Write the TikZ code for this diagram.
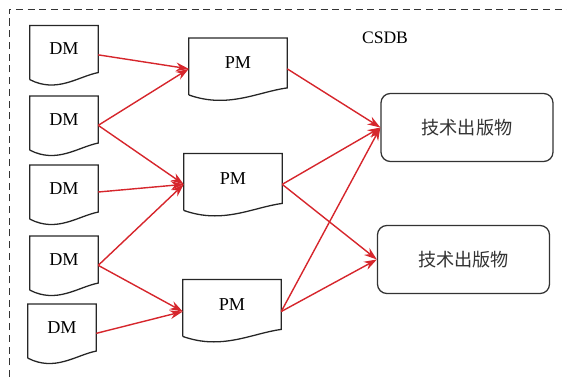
\documentclass[tikz,border=0pt]{standalone}
\usepackage{fontspec}
\setmainfont{Liberation Serif}
\newfontfamily\cjkfont{Noto Sans CJK SC}
\usetikzlibrary{arrows.meta}
\definecolor{arrowred}{RGB}{214,38,44}

\begin{document}
\begin{tikzpicture}[
    x=0.03cm, y=-0.03cm,
    doc/.style={
        rectangle,
        minimum width=2.04cm,
        minimum height=1.40cm,
        inner sep=0pt,
        font=\fontsize{15.5}{18}\selectfont
    },
    pmdoc/.style={
        doc,
        minimum width=2.94cm,
        minimum height=1.48cm
    },
    pub/.style={
        rectangle,
        rounded corners=8pt,
        draw=black!80,
        line width=1.1pt,
        minimum width=5.16cm,
        minimum height=2.04cm,
        text=black!80,
        font=\cjkfont\fontsize{15.5}{18}\selectfont
    },
    outline/.style={
        draw=black!85,
        line width=1.1pt
    },
    link/.style={
        -{Stealth[length=11pt,width=7.5pt]},
        draw=arrowred,
        line width=1.2pt
    },
    frame/.style={
        dashed,
        dash pattern=on 6pt off 4pt,
        line width=0.8pt,
        black!80
    }
]
\useasboundingbox (0,0) rectangle (567,377);

% CSDB frame
\draw[frame] (9,377) -- (9,9) -- (567,9);
\node[font=\fontsize{15}{18}\selectfont] (csdb) at (385,38) {CSDB};

% Data modules
\node[doc] (dm1) at (64,49) {DM};
\node[doc] (dm2) at (64,119.5) {DM};
\node[doc] (dm3) at (64,188.5) {DM};
\node[doc] (dm4) at (64,259.5) {DM};
\node[doc] (dm5) at (62,327.5) {DM};

% Publication modules
\node[pmdoc] (pm1) at (238,63) {PM};
\node[pmdoc] (pm2) at (233,178.5) {PM};
\node[pmdoc] (pm3) at (232,304.5) {PM};

% Technical publications
\node[pub] (out1) at (467,127.5) {技术出版物};
\node[pub] (out2) at (463.5,259.5) {技术出版物};

% Document outlines with wavy bottom
\foreach \n/\w in {dm1/68, dm2/68, dm3/68, dm4/68, dm5/68, pm1/98, pm2/98, pm3/98}
    \draw[outline] ([yshift=-6pt]\n.south west) -- (\n.north west) -- (\n.north east) -- (\n.south east)
        .. controls +({-0.3*\w},4) and +({0.4*\w},14) .. ([yshift=-6pt]\n.south west);

% DM -> PM
\draw[link] ([yshift=-5pt]dm1.east) -- ([yshift=-5pt]pm1.west);
\draw[link] ([yshift=-5pt]dm2.east) -- ([yshift=-5pt]pm1.west);
\draw[link] ([yshift=-5pt]dm2.east) -- ([yshift=-5pt]pm2.west);
\draw[link] ([yshift=-3pt]dm3.east) -- ([yshift=-5pt]pm2.west);
\draw[link] ([yshift=-5pt]dm4.east) -- ([yshift=-5pt]pm2.west);
\draw[link] ([yshift=-5pt]dm4.east) -- ([yshift=-6pt]pm3.west);
\draw[link] ([yshift=-5pt]dm5.east) -- ([yshift=-6pt]pm3.west);

% PM -> publications
\draw[link] ([yshift=-5pt]pm1.east) -- (out1.west);
\draw[link] ([yshift=-5pt]pm2.east) -- (out1.west);
\draw[link] ([yshift=-5pt]pm2.east) -- (out2.west);
\draw[link] ([yshift=-6pt]pm3.east) -- (out1.west);
\draw[link] ([yshift=-6pt]pm3.east) -- (out2.west);

\end{tikzpicture}
\end{document}
